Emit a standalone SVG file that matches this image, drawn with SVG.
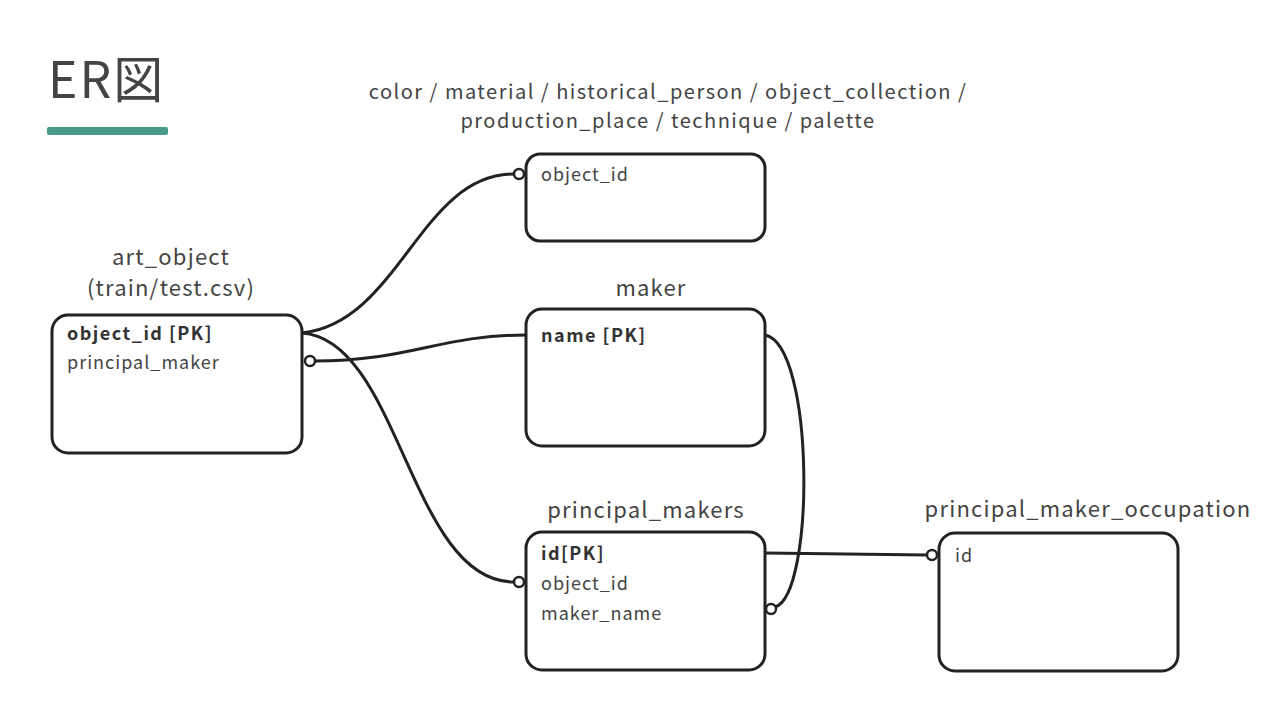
<svg xmlns="http://www.w3.org/2000/svg" width="1272" height="716" viewBox="0 0 1272 716">
<style>
text{font-family:"Noto Sans CJK JP","Noto Sans",sans-serif;fill:#444}
.t{font-size:22px;text-anchor:middle;letter-spacing:1.2px}
.f{font-size:18px;letter-spacing:1px}
.b{font-weight:bold;fill:#333;letter-spacing:1.5px}
.box{fill:#fff;stroke:#222;stroke-width:3}
.c{fill:none;stroke:#222;stroke-width:3}
.o{fill:#fff;stroke:#222;stroke-width:2.5}
</style>
<rect width="1272" height="716" fill="#fff"/>
<g id="title">
<text x="48" y="98" style="font-size:50px;fill:#444;letter-spacing:2px">ER図</text>
<rect x="47" y="127" width="121" height="8" rx="2" fill="#4a9a87"/>
</g>
<g id="connectors">
<path class="c" d="M302,333 C400,322 420,174 514,174"/>
<path class="c" d="M314,361 C410,361 440,335 526,335"/>
<path class="c" d="M302,333 C400,340 410,582 514,582"/>
<path class="c" d="M765,335 C815,345 815,595 775,607"/>
<path class="c" d="M765,553 L927,555"/>
<circle class="o" cx="519" cy="174" r="5"/>
<circle class="o" cx="310" cy="361" r="5"/>
<circle class="o" cx="519" cy="582" r="5"/>
<circle class="o" cx="771" cy="609" r="5"/>
<circle class="o" cx="932" cy="555" r="5"/>
</g>
<g id="art_object">
<text class="t" x="171" y="265">art_object</text>
<text class="t" x="171" y="296">(train/test.csv)</text>
<rect class="box" x="52" y="315" width="250" height="138" rx="16"/>
<text class="f b" x="67" y="340">object_id [PK]</text>
<text class="f" x="67" y="369">principal_maker</text>
</g>
<g id="attributes">
<text class="t" x="668" y="99" style="font-size:20px;letter-spacing:1.5px">color / material / historical_person / object_collection /</text>
<text class="t" x="668" y="128" style="font-size:20px;letter-spacing:1.5px">production_place / technique / palette</text>
<rect class="box" x="526" y="154" width="239" height="87" rx="14"/>
<text class="f" x="541" y="181">object_id</text>
</g>
<g id="maker">
<text class="t" x="651" y="296">maker</text>
<rect class="box" x="526" y="309" width="239" height="137" rx="16"/>
<text class="f b" x="541" y="342">name [PK]</text>
</g>
<g id="principal_makers">
<text class="t" x="646" y="518">principal_makers</text>
<rect class="box" x="526" y="532" width="239" height="138" rx="16"/>
<text class="f b" x="541" y="560">id[PK]</text>
<text class="f" x="541" y="590">object_id</text>
<text class="f" x="541" y="620">maker_name</text>
</g>
<g id="principal_maker_occupation">
<text class="t" x="1088" y="517">principal_maker_occupation</text>
<rect class="box" x="939" y="533" width="239" height="138" rx="16"/>
<text class="f" x="955" y="562">id</text>
</g>
</svg>
